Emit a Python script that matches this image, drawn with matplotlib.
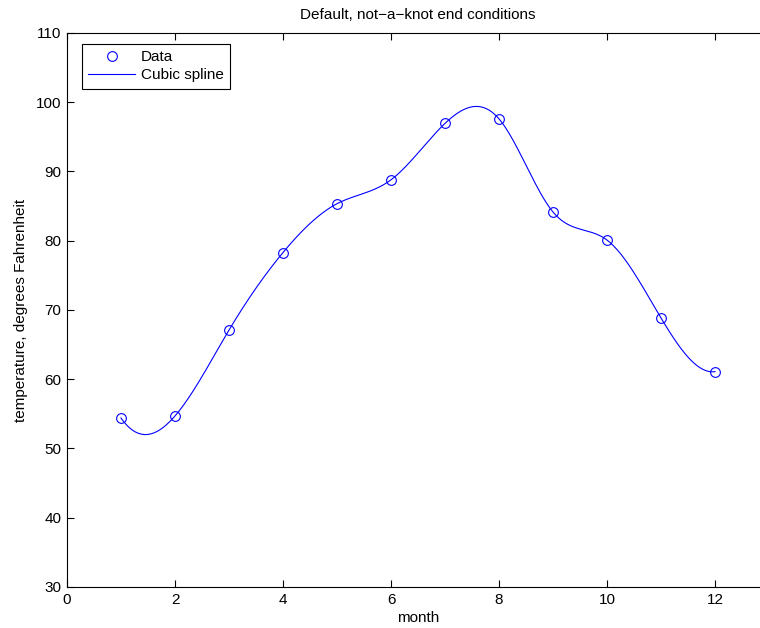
import matplotlib
matplotlib.use('Agg')
import matplotlib.pyplot as plt
import numpy as np

plt.rcParams['font.family'] = ['Liberation Sans', 'DejaVu Sans']

# monthly temperatures
month = np.arange(1, 13)
temp = [54.4, 54.7, 67.1, 78.3, 85.35, 88.8, 96.95, 97.6, 84.15, 80.1, 68.85, 61.1]


def notaknot_spline(x, y, xx):
    # cubic spline with not-a-knot end conditions (like MATLAB spline)
    x = np.asarray(x, float)
    y = np.asarray(y, float)
    n = len(x)
    h = np.diff(x)
    A = np.zeros((n, n))
    r = np.zeros(n)
    A[0, 0] = h[1]
    A[0, 1] = -(h[0] + h[1])
    A[0, 2] = h[0]
    A[-1, -3] = h[-1]
    A[-1, -2] = -(h[-2] + h[-1])
    A[-1, -1] = h[-2]
    for i in range(1, n - 1):
        A[i, i - 1] = h[i - 1]
        A[i, i] = 2 * (h[i - 1] + h[i])
        A[i, i + 1] = h[i]
        r[i] = 6 * ((y[i + 1] - y[i]) / h[i] - (y[i] - y[i - 1]) / h[i - 1])
    M = np.linalg.solve(A, r)
    idx = np.clip(np.searchsorted(x, xx) - 1, 0, n - 2)
    t0 = x[idx + 1] - xx
    t1 = xx - x[idx]
    hi = h[idx]
    return (M[idx] * t0**3 / (6 * hi) + M[idx + 1] * t1**3 / (6 * hi)
            + (y[idx] / hi - M[idx] * hi / 6) * t0
            + (y[idx + 1] / hi - M[idx + 1] * hi / 6) * t1)


xx = np.linspace(1, 12, 500)
yy = notaknot_spline(month, temp, xx)

fig = plt.figure(figsize=(7.6, 6.28), dpi=100)
ax = fig.add_axes([67 / 760., 1 - 587 / 628., (13 * 54) / 760., 554 / 628.])

ax.plot(month, temp, 'o', mfc='none', mec='b', ms=7, mew=0.8, label='Data')
ax.plot(xx, yy, '-', color='b', lw=0.8, label='Cubic spline')

ax.set_xlim(0, 13)
ax.set_ylim(30, 110)
ax.set_xticks(range(0, 13, 2))
ax.set_yticks(range(30, 111, 10))
ax.tick_params(direction='in', length=5, width=0.8, top=True, right=True,
               labelsize=11, pad=4, colors='black')
for s in ax.spines.values():
    s.set_linewidth(0.8)

ax.set_title('Default, not\u2212a\u2212knot end conditions', fontsize=11, pad=10)
ax.set_xlabel('month', fontsize=11, labelpad=3)
ax.set_ylabel('temperature, degrees Fahrenheit', fontsize=11, labelpad=6)

leg = ax.legend(loc='upper left', fontsize=11, fancybox=False, framealpha=1,
                edgecolor='black', borderaxespad=0.0, handlelength=3.1,
                borderpad=0.4, labelspacing=0.28, handletextpad=0.35,
                bbox_to_anchor=(15 / 702., 1 - 11 / 554.))
leg.get_frame().set_linewidth(0.8)

fig.savefig('out.png', dpi=100)
